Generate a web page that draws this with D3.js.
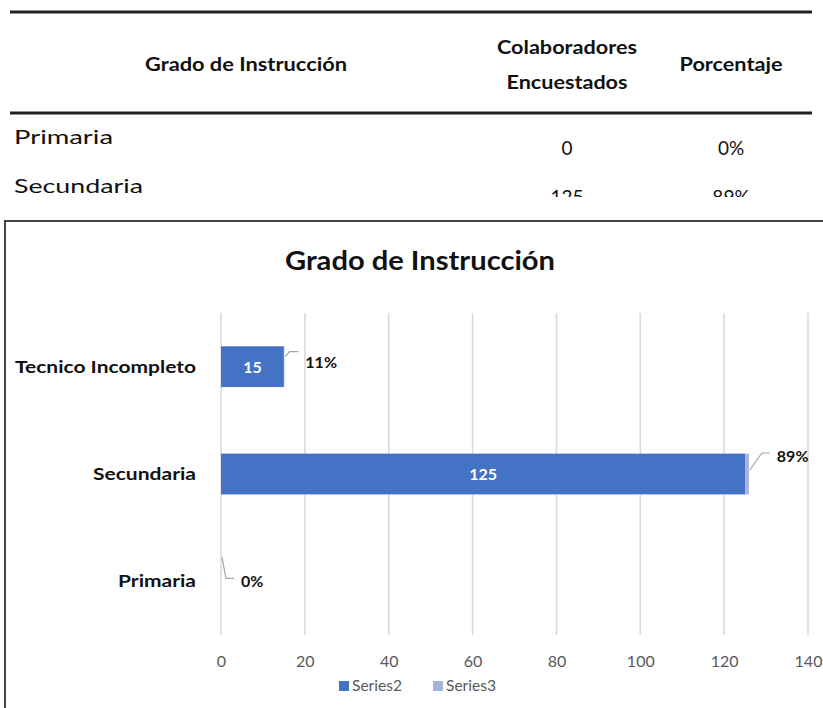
<!DOCTYPE html>
<html>
<head>
<meta charset="utf-8">
<script src="https://cdn.jsdelivr.net/npm/d3@7"></script>
<style>
  body { margin: 0; background: #fff; }
  svg { display: block; font-family: Lato, "Open Sans", sans-serif; }
</style>
</head>
<body>
<script>
"use strict";
(function(){
    // Table data (top crop)
    const tableHeaders = ["Grado de Instrucción", "Colaboradores|Encuestados", "Porcentaje"]
    const tableRows = ["Primaria", "Secundaria"]
    const tableCounts = ["0", "125"]
    const tablePct = ["0%", "89%"]

    // Chart data
    const categories = ["Primaria", "Secundaria", "Tecnico Incompleto"]
    const series2 = [0, 125, 15]
    const series3 = [0, 0.89, 0.11]
    const pctLabels = ["0%", "89%", "11%"]
    const xTicks = [0, 20, 40, 60, 80, 100, 120, 140]
    const legendNames = ["Series2", "Series3"]

    const colors = { s2: "#4472C4", s3: "#A5B4DD" }
    const W = 823, H = 708

    // stretch text to the width seen in the picture (Calibri look)
    function fit(sel, w) {
        return sel.attr("textLength", w).attr("lengthAdjust", "spacingAndGlyphs")
    }

    const svg = d3.select("body").append("svg")
        .attr("width", W)
        .attr("height", H)

    // ---- table ----
    svg.append("defs").append("clipPath").attr("id", "tclip")
        .append("rect").attr("x", 0).attr("y", 0).attr("width", W).attr("height", 197)
    const table = svg.append("g").attr("clip-path", "url(#tclip)")

    table.append("line").attr("x1", 10).attr("x2", 812).attr("y1", 12).attr("y2", 12)
        .attr("stroke", "#222").attr("stroke-width", 3)
    table.append("line").attr("x1", 10).attr("x2", 812).attr("y1", 113).attr("y2", 113)
        .attr("stroke", "#222").attr("stroke-width", 3)

    const headerX = [246, 567, 731]
    const headerW = [[202], [140, 121], [103]]
    tableHeaders.forEach((h, i) => {
        const lines = h.split("|")
        lines.forEach((l, j) => {
            fit(table.append("text")
                .attr("x", headerX[i] - headerW[i][j] / 2)
                .attr("y", lines.length == 1 ? 71 : 54 + j * 35)
                .attr("font-weight", "bold")
                .attr("font-size", 19)
                .attr("fill", "#111")
                .text(l), headerW[i][j])
        })
    })

    const rowW = [99, 129]
    tableRows.forEach((r, i) => {
        const y = 144 + i * 49
        fit(table.append("text").attr("x", 14).attr("y", y)
            .attr("font-size", 20).attr("fill", "#111").text(r), rowW[i])
        table.append("text").attr("x", headerX[1]).attr("y", y + 11)
            .attr("text-anchor", "middle").attr("font-size", 19).attr("fill", "#111")
            .text(tableCounts[i])
        table.append("text").attr("x", headerX[2]).attr("y", y + 11)
            .attr("text-anchor", "middle").attr("font-size", 19).attr("fill", "#111")
            .text(tablePct[i])
    })

    // ---- chart frame ----
    svg.append("rect")
        .attr("x", 5).attr("y", 221)
        .attr("width", W + 10).attr("height", H)
        .attr("fill", "#fff")
        .attr("stroke", "#444").attr("stroke-width", 2)

    fit(svg.append("text")
        .attr("x", 285).attr("y", 270)
        .attr("font-weight", "bold")
        .attr("font-size", 26)
        .attr("fill", "#111")
        .text("Grado de Instrucción"), 270)

    const x = d3.scaleLinear().domain([0, 140]).range([221, 808])
    const y = d3.scaleBand()
        .domain(categories.slice().reverse())
        .range([313, 635])
        .paddingInner(0.62)
        .paddingOuter(0.31)

    // gridlines
    svg.append("g").selectAll("line")
        .data(xTicks)
        .enter().append("line")
        .attr("x1", d => x(d)).attr("x2", d => x(d))
        .attr("y1", 313).attr("y2", 635)
        .attr("stroke", "#d9d9d9").attr("stroke-width", 1.5)

    // x axis labels
    const xAxis = d3.axisBottom(x).tickValues(xTicks).tickSize(0).tickPadding(0)
    const gx = svg.append("g").attr("transform", "translate(0,656)").call(xAxis)
    gx.select(".domain").remove()
    gx.selectAll("text")
        .attr("font-family", "Lato, sans-serif")
        .attr("font-size", 16)
        .attr("fill", "#595959")

    // y axis labels
    const catW = { "Tecnico Incompleto": 181, "Secundaria": 103, "Primaria": 78 }
    svg.append("g").selectAll("text")
        .data(categories)
        .enter().append("text")
        .attr("x", d => 196 - catW[d])
        .attr("y", d => y(d) + y.bandwidth() / 2 + 6)
        .attr("font-weight", "bold")
        .attr("font-size", 17)
        .attr("fill", "#111")
        .attr("textLength", d => catW[d])
        .attr("lengthAdjust", "spacingAndGlyphs")
        .text(d => d)

    const rows = categories.map((c, i) => ({ cat: c, v2: series2[i], v3: series3[i], lab: pctLabels[i] }))

    // Series2 bars
    svg.append("g").selectAll("rect")
        .data(rows)
        .enter().append("rect")
        .attr("x", x(0))
        .attr("y", d => y(d.cat))
        .attr("width", d => x(d.v2) - x(0))
        .attr("height", y.bandwidth())
        .attr("fill", colors.s2)

    // Series3 stacked
    svg.append("g").selectAll("rect")
        .data(rows)
        .enter().append("rect")
        .attr("x", d => x(d.v2))
        .attr("y", d => y(d.cat))
        .attr("width", d => x(d.v2 + d.v3) - x(d.v2))
        .attr("height", y.bandwidth())
        .attr("fill", colors.s3)

    // value labels inside bars
    svg.append("g").selectAll("text")
        .data(rows.filter(d => d.v2 > 0))
        .enter().append("text")
        .attr("x", d => (x(0) + x(d.v2)) / 2)
        .attr("y", d => y(d.cat) + y.bandwidth() / 2 + 6)
        .attr("text-anchor", "middle")
        .attr("font-weight", "bold")
        .attr("font-size", 16)
        .attr("fill", "#fff")
        .text(d => d.v2)

    // percent labels with leader lines
    const leaders = {
        "Tecnico Incompleto": { dx0: 0, dy0: -10, dx1: 4, dy1: -15, dx2: 13, ty: 16 },
        "Secundaria": { dx0: 0, dy0: -4, dx1: 12, dy1: -21, dx2: 20, ty: 9 },
        "Primaria": { dx0: 0, dy0: -24, dx1: 4, dy1: -3, dx2: 12, ty: 9 }
    }
    rows.forEach(d => {
        const L = leaders[d.cat]
        const ex = x(d.v2 + d.v3) + 1
        const cy = y(d.cat) + y.bandwidth() / 2
        svg.append("path")
            .attr("d", `M${ex + L.dx0},${cy + L.dy0} L${ex + L.dx1},${cy + L.dy1} L${ex + L.dx2},${cy + L.dy1}`)
            .attr("fill", "none")
            .attr("stroke", "#a6a6a6")
            .attr("stroke-width", 1.2)
        svg.append("text")
            .attr("x", ex + L.dx2 + 7)
            .attr("y", cy + L.dy1 + L.ty)
            .attr("font-weight", "bold")
            .attr("font-size", 16)
            .attr("fill", "#111")
            .text(d.lab)
    })

    // legend
    const legend = svg.append("g").attr("transform", "translate(339,686)")
    legendNames.forEach((n, i) => {
        const g = legend.append("g").attr("transform", `translate(${i * 94},0)`)
        g.append("rect").attr("x", 0).attr("y", -5).attr("width", 10).attr("height", 10)
            .attr("fill", i == 0 ? colors.s2 : colors.s3)
        fit(g.append("text").attr("x", 13).attr("y", 5)
            .attr("font-size", 15).attr("fill", "#595959").text(n), 50)
    })
})()
</script>
</body>
</html>
